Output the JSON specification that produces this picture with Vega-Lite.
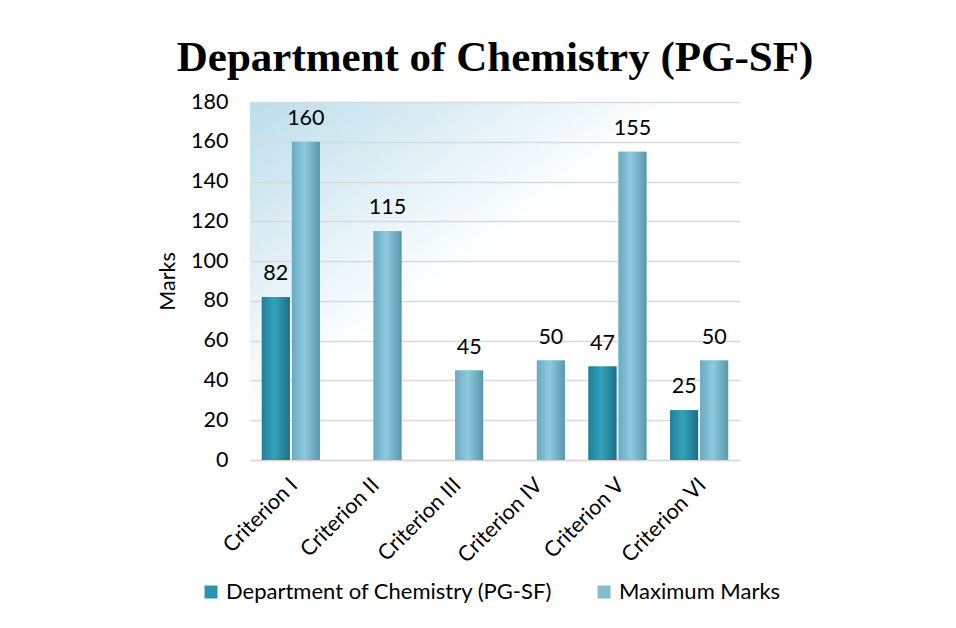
{
  "$schema": "https://vega.github.io/schema/vega-lite/v6.json",
  "width": 490,
  "height": 358,
  "autosize": "none",
  "padding": {"left": 250, "top": 102, "right": 216, "bottom": 168},
  "background": "white",
  "title": {
    "text": "Department of Chemistry (PG-SF)",
    "font": "Liberation Serif",
    "fontSize": 43,
    "fontWeight": "bold",
    "color": "black",
    "anchor": "middle",
    "offset": 11
  },
  "data": {
    "values": [
      {"criterion": "Criterion I", "series": "Department of Chemistry (PG-SF)", "marks": 82},
      {"criterion": "Criterion I", "series": "Maximum Marks", "marks": 160},
      {"criterion": "Criterion II", "series": "Maximum Marks", "marks": 115},
      {"criterion": "Criterion III", "series": "Maximum Marks", "marks": 45},
      {"criterion": "Criterion IV", "series": "Maximum Marks", "marks": 50},
      {"criterion": "Criterion V", "series": "Department of Chemistry (PG-SF)", "marks": 47},
      {"criterion": "Criterion V", "series": "Maximum Marks", "marks": 155},
      {"criterion": "Criterion VI", "series": "Department of Chemistry (PG-SF)", "marks": 25},
      {"criterion": "Criterion VI", "series": "Maximum Marks", "marks": 50}
    ]
  },
  "encoding": {
    "x": {
      "field": "criterion",
      "type": "nominal",
      "sort": ["Criterion I", "Criterion II", "Criterion III", "Criterion IV", "Criterion V", "Criterion VI"],
      "scale": {"paddingInner": 0.29, "paddingOuter": 0.145},
      "axis": {
        "title": null,
        "labelAngle": -45,
        "labelFont": "Lato",
        "labelFontSize": 21.5,
        "labelColor": "black",
        "ticks": false,
        "labelPadding": 14,
        "labelOffset": -4,
        "domainColor": "#d9d9d9",
        "domainWidth": 1.5
      }
    },
    "xOffset": {
      "field": "series",
      "type": "nominal",
      "scale": {"domain": ["Department of Chemistry (PG-SF)", "Maximum Marks"], "paddingInner": 0.07}
    },
    "y": {
      "field": "marks",
      "type": "quantitative",
      "scale": {"domain": [0, 180]},
      "axis": {
        "title": "Marks",
        "titleFont": "Lato",
        "titleFontSize": 21.5,
        "titleFontWeight": "normal",
        "titleColor": "black",
        "titlePadding": 11,
        "values": [0, 20, 40, 60, 80, 100, 120, 140, 160, 180],
        "labelFont": "Lato",
        "labelFontSize": 21.5,
        "labelColor": "black",
        "labelPadding": 22,
        "ticks": false,
        "domain": false,
        "gridColor": "#d9d9d9",
        "gridWidth": 1.5
      }
    }
  },
  "layer": [
    {
      "mark": {"type": "bar"},
      "encoding": {
        "color": {
          "field": "series",
          "type": "nominal",
          "scale": {"domain": ["Department of Chemistry (PG-SF)", "Maximum Marks"], "range": ["#2b93ad", "#7fbdd3"]},
          "legend": {
            "title": null,
            "orient": "none",
            "direction": "horizontal",
            "legendX": -50,
            "legendY": 479,
            "symbolType": "square",
            "symbolSize": 169,
            "symbolStrokeWidth": 0,
            "labelFont": "Lato",
            "labelFontSize": 22,
            "labelColor": "black",
            "columnPadding": 40,
            "labelLimit": 400
          }
        }
      }
    },
    {
      "transform": [{"filter": "datum.series == 'Department of Chemistry (PG-SF)'"}],
      "mark": {
        "type": "bar",
        "color": {
          "gradient": "linear", "x1": 0, "y1": 0, "x2": 1, "y2": 0,
          "stops": [
            {"offset": 0, "color": "#1f7f98"},
            {"offset": 0.45, "color": "#33a2bd"},
            {"offset": 1, "color": "#1c6f85"}
          ]
        }
      }
    },
    {
      "transform": [{"filter": "datum.series == 'Maximum Marks'"}],
      "mark": {
        "type": "bar",
        "color": {
          "gradient": "linear", "x1": 0, "y1": 0, "x2": 1, "y2": 0,
          "stops": [
            {"offset": 0, "color": "#6aaac0"},
            {"offset": 0.45, "color": "#8ccadf"},
            {"offset": 1, "color": "#5b97ab"}
          ]
        }
      }
    },
    {
      "mark": {"type": "text", "baseline": "alphabetic", "dy": -17, "font": "Lato", "fontSize": 21.5, "color": "black"},
      "encoding": {"text": {"field": "marks", "type": "quantitative"}}
    }
  ],
  "config": {
    "view": {
      "stroke": null,
      "fill": {
        "gradient": "linear", "x1": 0, "y1": 0, "x2": 1, "y2": 1,
        "stops": [
          {"offset": 0, "color": "#bcdeea"},
          {"offset": 0.45, "color": "#ffffff"},
          {"offset": 1, "color": "#ffffff"}
        ]
      }
    }
  }
}
